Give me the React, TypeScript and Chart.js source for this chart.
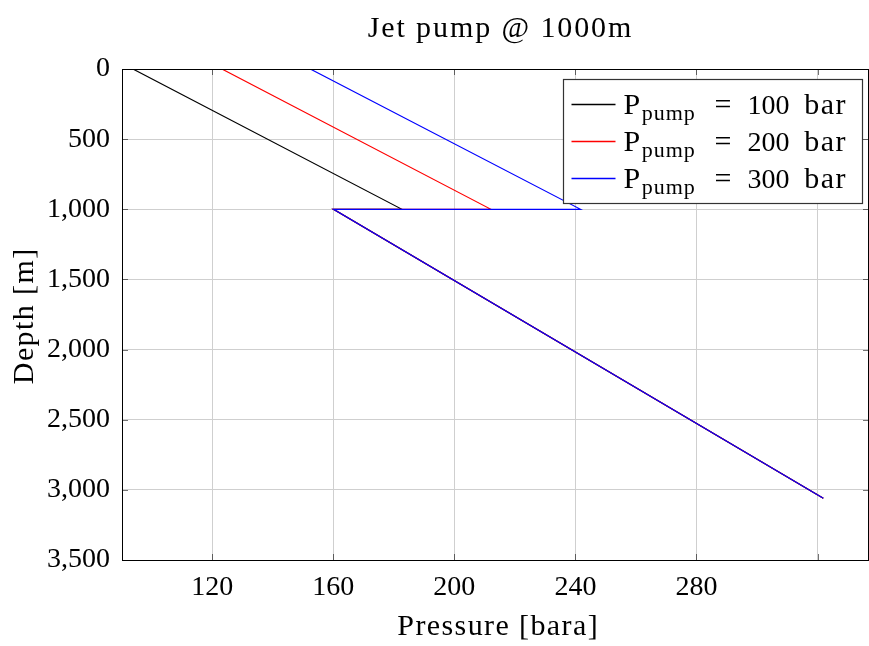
import React, { useEffect, useRef } from 'react';
import { Chart, registerables } from 'chart.js';

Chart.register(...registerables);

// ---- data ----
const pumpPressures = [100, 200, 300];
const seriesColors = ['#000000', '#ff0000', '#0000ff'];
const depthPoints = [0, 1000, 1000, 3060];
const pressureP100 = [93.8, 182.7, 160.1, 321.9];
const pressureP200 = [123.2, 212.1, 160.1, 321.9];
const pressureP300 = [152.4, 241.7, 160.1, 321.9];
const xTicks = [120, 160, 200, 240, 280, 320];
const xTickLabels = ['120', '160', '200', '240', '280', ''];
const yTicks = [0, 500, 1000, 1500, 2000, 2500, 3000, 3500];
const titleText = 'Jet pump @ 1000m';
const xTitle = 'Pressure [bara]';
const yTitle = 'Depth [m]';

const FONT = '"Liberation Serif", "Times New Roman", serif';
const FS = 28;
const TFS = 30;

const seriesPressures = [pressureP100, pressureP200, pressureP300];

function spacedText(ctx: any, text: string, x: number, y: number, spacing: number) {
  const anyCtx = ctx as any;
  const prev = anyCtx.letterSpacing;
  anyCtx.letterSpacing = `${spacing}px`;
  ctx.fillText(text, x + spacing / 2, y);
  anyCtx.letterSpacing = prev || '0px';
}

const decorPlugin = {
  id: 'decor',
  afterDraw(chart: any) {
    const ctx = chart.ctx;
    const a = chart.chartArea;
    const xs = chart.scales.x;
    const ys = chart.scales.y;
    ctx.save();
    // inner tick marks
    ctx.strokeStyle = 'rgba(0,0,0,0.55)';
    ctx.lineWidth = 1;
    const tl = 6;
    xTicks.forEach((v) => {
      const px = Math.round(xs.getPixelForValue(v)) + 0.5;
      ctx.beginPath();
      ctx.moveTo(px, a.bottom);
      ctx.lineTo(px, a.bottom - tl);
      ctx.moveTo(px, a.top);
      ctx.lineTo(px, a.top + tl);
      ctx.stroke();
    });
    yTicks.forEach((v) => {
      const py = Math.round(ys.getPixelForValue(v)) + 0.5;
      ctx.beginPath();
      ctx.moveTo(a.left, py);
      ctx.lineTo(a.left + tl, py);
      ctx.moveTo(a.right, py);
      ctx.lineTo(a.right - tl, py);
      ctx.stroke();
    });
    // frame
    ctx.strokeStyle = '#000';
    ctx.lineWidth = 1;
    ctx.strokeRect(Math.round(a.left) + 0.5, Math.round(a.top) + 0.5, Math.round(a.right - a.left) - 1, Math.round(a.bottom - a.top));

    ctx.fillStyle = '#000';
    ctx.font = `${TFS}px ${FONT}`;
    ctx.textAlign = 'center';
    ctx.textBaseline = 'middle';
    const cx = (a.left + a.right) / 2;
    // chart title
    spacedText(ctx, titleText, cx + 4, 29, 1.9);
    // x title
    spacedText(ctx, xTitle, cx + 2, 627, 1.4);
    // y title (overlapping tick labels like pgfplots)
    ctx.save();
    ctx.translate(25, (a.top + a.bottom) / 2 + 2);
    ctx.rotate(-Math.PI / 2);
    spacedText(ctx, yTitle, 0, 0, 1.4);
    ctx.restore();

    // legend
    const lw = 299, lh = 124;
    const lx = Math.round(a.right - 7 - lw) + 0.5;
    const ly = Math.round(a.top + 10) + 0.5;
    ctx.fillStyle = '#fff';
    ctx.fillRect(lx, ly, lw, lh);
    ctx.strokeStyle = '#333';
    ctx.lineWidth = 1.2;
    ctx.strokeRect(lx, ly, lw, lh);
    const rows = [25, 62, 99];
    pumpPressures.forEach((p, i) => {
      const ry = ly + rows[i];
      ctx.strokeStyle = seriesColors[i];
      ctx.lineWidth = 1.4;
      ctx.beginPath();
      ctx.moveTo(lx + 8, ry);
      ctx.lineTo(lx + 52, ry);
      ctx.stroke();
      const base = ry + 9;
      ctx.fillStyle = '#000';
      ctx.textAlign = 'left';
      ctx.textBaseline = 'alphabetic';
      ctx.font = `${TFS}px ${FONT}`;
      ctx.fillText('P', lx + 60, base);
      const pw = ctx.measureText('P').width;
      ctx.font = `${Math.round(FS * 0.8)}px ${FONT}`;
      spacedText(ctx, 'pump', lx + 60 + pw + 1, base + 6, 1);
      ctx.font = `${TFS}px ${FONT}`;
      ctx.fillText('=', lx + 151, base);
      ctx.font = `${FS}px ${FONT}`;
      ctx.fillText(String(p), lx + 184, base);
      ctx.font = `${TFS}px ${FONT}`;
      spacedText(ctx, 'bar', lx + 240, base, 1.5);
    });
    ctx.restore();
  },
};

export default function App() {
  const ref = useRef<HTMLCanvasElement | null>(null);
  useEffect(() => {
    document.body.style.margin = '0';
    const canvas = ref.current;
    if (!canvas) return;
    const datasets = seriesPressures.map((arr, i) => ({
      label: `P_pump = ${pumpPressures[i]} bar`,
      data: arr.map((x, j) => ({ x, y: depthPoints[j] })),
      borderColor: seriesColors[i],
      backgroundColor: seriesColors[i],
      borderWidth: 1.2,
      showLine: true,
      pointRadius: 0,
      pointHoverRadius: 0,
      fill: false,
      tension: 0,
      order: 3 - i,
    }));
    const chart = new Chart(canvas, {
      type: 'scatter',
      data: { datasets },
      plugins: [decorPlugin],
      options: {
        animation: false,
        responsive: false,
        devicePixelRatio: 1,
        layout: { padding: { left: 0, right: 0, top: 69, bottom: 0 } },
        plugins: {
          legend: { display: false },
          tooltip: { enabled: false },
          title: { display: false },
        },
        scales: {
          x: {
            type: 'linear',
            min: 90.2,
            max: 337,
            afterBuildTicks: (s: any) => {
              s.ticks = xTicks.map((v) => ({ value: v }));
            },
            afterFit: (s: any) => {
              s.height = 86;
            },
            ticks: {
              autoSkip: false,
              maxRotation: 0,
              color: '#000',
              padding: 11,
              font: { family: FONT, size: FS },
              callback: (v: any) => {
                const k = xTicks.indexOf(Number(v));
                return k >= 0 ? xTickLabels[k] : '';
              },
            },
            grid: { color: '#cfcfcf', lineWidth: 1, drawTicks: false },
            border: { display: true, color: '#000', width: 1 },
            title: { display: false, text: xTitle },
          },
          y: {
            type: 'linear',
            reverse: true,
            min: 0,
            max: 3500,
            afterBuildTicks: (s: any) => {
              s.ticks = yTicks.map((v) => ({ value: v }));
            },
            afterFit: (s: any) => {
              s.width = 122;
            },
            ticks: {
              autoSkip: false,
              color: '#000',
              padding: 12,
              font: { family: FONT, size: FS },
              callback: (v: any) => Number(v).toLocaleString('en-US'),
            },
            grid: { color: '#cfcfcf', lineWidth: 1, drawTicks: false },
            border: { display: true, color: '#000', width: 1 },
            title: { display: false, text: yTitle },
          },
        },
      } as any,
    });
    return () => chart.destroy();
  }, []);
  return (
    <div style={{ width: 869, height: 646 }}>
      <canvas ref={ref} width={869} height={646} style={{ display: 'block' }} />
    </div>
  );
}
